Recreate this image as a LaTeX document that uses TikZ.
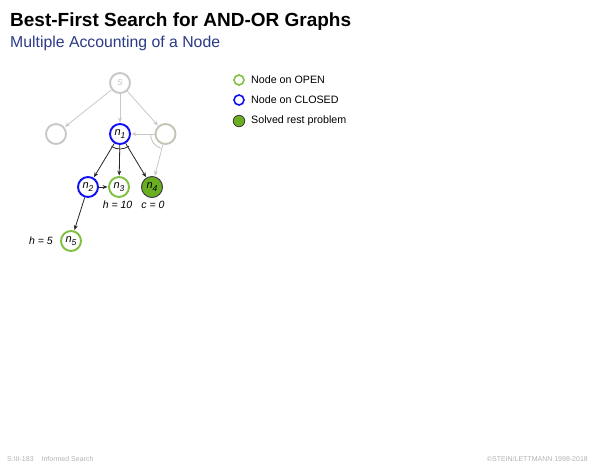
\documentclass[tikz,border=0pt]{standalone}
\usepackage{fontspec}
\setmainfont{Liberation Sans}
\usetikzlibrary{arrows.meta,calc}
\definecolor{openg}{HTML}{80C040}
\definecolor{closedb}{HTML}{1010F0}
\definecolor{solvedg}{HTML}{6AAE22}
\definecolor{graynode}{HTML}{C8C8C8}
\definecolor{graygreen}{HTML}{C2C6B6}
\definecolor{subblue}{HTML}{2A3A86}
\newcommand{\nlab}[1]{n\raisebox{-2.2pt}{\fontsize{8.5}{9}\selectfont #1}}
\tikzset{
  gnode/.style={circle,draw,line width=1.9pt,minimum size=20pt,inner sep=0pt,font=\itshape\fontsize{11}{12}\selectfont},
  opennode/.style={gnode,draw=openg},
  closednode/.style={gnode,draw=closedb},
  solvednode/.style={gnode,draw=black!75,fill=solvedg,line width=1pt,minimum size=21pt},
  greynode/.style={gnode,draw=graynode,text=graynode},
  ggnode/.style={gnode,draw=graygreen},
  edge/.style={-{Stealth[length=5pt,width=4pt]},line width=0.8pt,black!85,shorten >=0.5pt},
  gedge/.style={-{Stealth[length=5pt,width=4pt]},line width=0.8pt,graynode,shorten >=0.5pt},
  lab/.style={font=\itshape\fontsize{10.5}{12}\selectfont,inner sep=0pt},
  legc/.style={circle,draw,line width=1.6pt,minimum size=10pt,inner sep=0pt},
  legt/.style={anchor=west,font=\fontsize{10.7}{12}\selectfont,inner sep=0pt},
  foot/.style={inner sep=0pt,font=\fontsize{7}{8}\selectfont,text=black!30},
}
\begin{document}
\begin{tikzpicture}[x=1pt,y=-1pt]
\useasboundingbox (0,0) rectangle (600,467);
\node[anchor=base west,inner sep=0pt,font=\bfseries\fontsize{19}{22}\selectfont] (title) at (10,26) {Best-First Search for AND-OR Graphs};
\node[anchor=base west,inner sep=0pt,font=\fontsize{15.8}{18}\selectfont,text=subblue] (sub) at (10,47) {Multiple Accounting of a Node};

\node[greynode] (s) at (120,83) {s};
\node[greynode] (l) at (56,134) {};
\node[closednode] (n1) at (120,134) {\nlab{1}};
\node[ggnode] (r) at (165.5,134) {};
\node[closednode] (n2) at (88,187) {\nlab{2}};
\node[opennode] (n3) at (119,187) {\nlab{3}};
\node[solvednode] (n4) at (152,187) {\nlab{4}};
\node[opennode] (n5) at (71,241) {\nlab{5}};

\draw[gedge] (s) -- (l);
\draw[gedge] (s) -- (n1);
\draw[gedge] (s) -- (r);
\draw[gedge] (r) -- (n1);
\draw[gedge] (r) -- (n4);
\draw[edge] (n1) -- (n2);
\draw[edge] (n1) -- (n3);
\draw[edge] (n1) -- (n4);
\draw[edge] (n2) -- (n3);
\draw[edge] (n2) -- (n5);

% AND arcs
\draw[line width=0.8pt,black!85] ($(n1)+(124:15)$) arc[start angle=124,end angle=54,radius=15];
\draw[line width=0.8pt,graygreen] ($(r)+(180:15)$) arc[start angle=180,end angle=108,radius=15];

\node[lab] (h3) at (117.5,205) {h = 10};
\node[lab] (c4) at (153,205) {c = 0};
\node[lab] (h5) at (41,241) {h = 5};

\node[legc,draw=openg] (lo) at (239,80) {};
\node[legt] (lot) at (251,80) {Node on OPEN};
\node[legc,draw=closedb] (lc) at (239,100) {};
\node[legt] (lct) at (251,100) {Node on CLOSED};
\node[legc,draw=black!75,fill=solvedg,line width=0.8pt,minimum size=11.5pt] (ls) at (239,121) {};
\node[legt] (lst) at (251,121) {Solved rest problem};

\node[foot,anchor=base west] (fl) at (7,461) {S:III-183\hspace{8pt}Informed Search};
\node[foot,anchor=base east] (fr) at (588,461) {©STEIN/LETTMANN 1998-2018};
\end{tikzpicture}
\end{document}
